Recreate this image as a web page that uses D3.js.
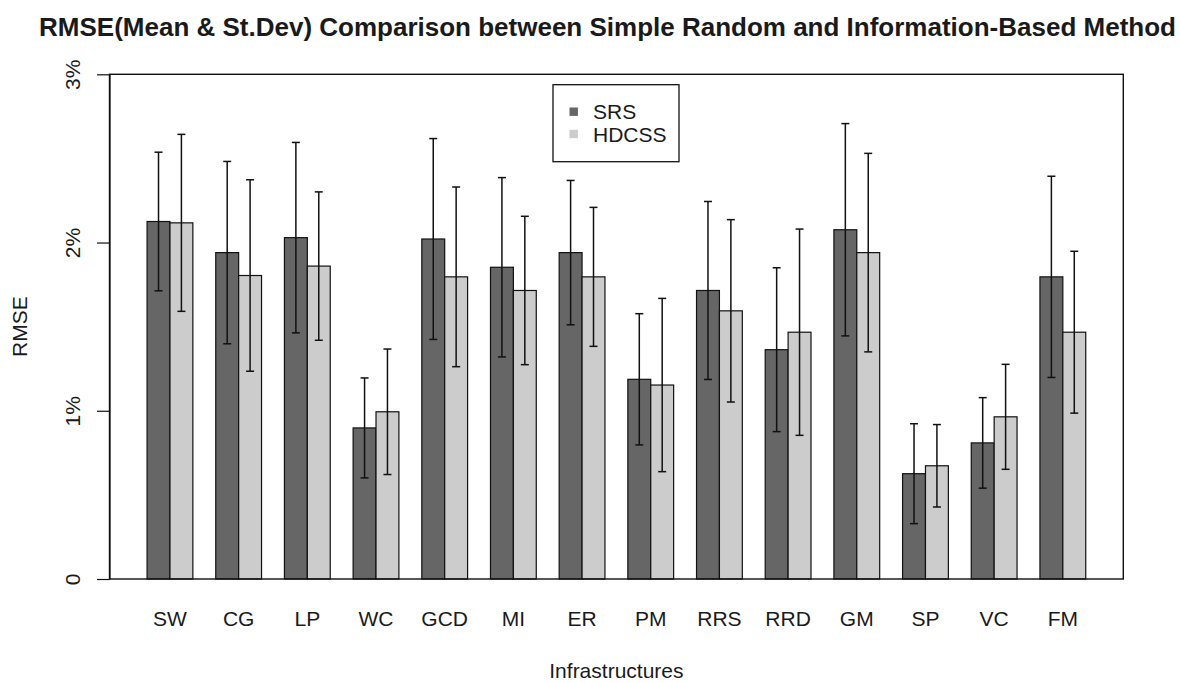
<!DOCTYPE html>
<html>
<head>
<meta charset="utf-8">
<script src="https://cdn.jsdelivr.net/npm/d3@7"></script>
<style>
  body { margin: 0; background: #fff; }
  text { font-family: "Liberation Sans", Arial, sans-serif; fill: #1a1a1a; }
</style>
</head>
<body>
<div id="chart"></div>
<script>
// values (RMSE in %)
const categories = ["SW", "CG", "LP", "WC", "GCD", "MI", "ER", "PM", "RRS", "RRD", "GM", "SP", "VC", "FM"];
const seriesNames = ["SRS", "HDCSS"];
const srsMean = [2.125, 1.940, 2.029, 0.898, 2.021, 1.853, 1.940, 1.187, 1.715, 1.363, 2.076, 0.626, 0.809, 1.796];
const srsSd = [0.412, 0.542, 0.566, 0.297, 0.597, 0.533, 0.429, 0.390, 0.529, 0.487, 0.631, 0.297, 0.269, 0.598];
const hdcssMean = [2.117, 1.804, 1.860, 0.994, 1.796, 1.715, 1.796, 1.153, 1.594, 1.467, 1.940, 0.673, 0.964, 1.467];
const hdcssSd = [0.526, 0.569, 0.441, 0.373, 0.534, 0.441, 0.413, 0.515, 0.542, 0.613, 0.590, 0.245, 0.312, 0.481];
const yTicks = [0, 1, 2, 3];
const yTickLabels = ["0", "1%", "2%", "3%"];
const colors = ["#666666", "#cccccc"];

const width = 1180, height = 683;
const plot = { left: 109.5, right: 1123.3, top: 74.3, bottom: 579 };

const svg = d3.select("#chart").append("svg")
    .attr("width", width)
    .attr("height", height);

// scales - barplot(beside=TRUE) style spacing
const x0 = d3.scaleBand()
    .domain(categories)
    .range([plot.left, plot.right])
    .paddingInner(1 / 3)
    .paddingOuter(0.547);

const x1 = d3.scaleBand()
    .domain(seriesNames)
    .range([0, x0.bandwidth()]);

const y = d3.scaleLinear()
    .domain([0, 3])
    .range([plot.bottom, plot.top]);

// build rows
const rows = categories.map((c, i) => ({
    cat: c,
    vals: [
        { s: "SRS", mean: srsMean[i], sd: srsSd[i] },
        { s: "HDCSS", mean: hdcssMean[i], sd: hdcssSd[i] }
    ]
}));

// bars
const groups = svg.append("g").selectAll("g")
    .data(rows)
    .join("g")
    .attr("transform", d => `translate(${x0(d.cat)},0)`);

groups.selectAll("rect")
    .data(d => d.vals)
    .join("rect")
    .attr("x", d => x1(d.s))
    .attr("y", d => y(d.mean))
    .attr("width", x1.bandwidth())
    .attr("height", d => y(0) - y(d.mean))
    .attr("fill", (d, i) => colors[i])
    .attr("stroke", "#111")
    .attr("stroke-width", 1.2);

// error bars
const capHalf = 4;
const err = groups.selectAll("g.err")
    .data(d => d.vals)
    .join("g")
    .attr("class", "err")
    .attr("stroke", "#111")
    .attr("stroke-width", 1.5);

err.append("line")
    .attr("x1", d => x1(d.s) + x1.bandwidth() / 2)
    .attr("x2", d => x1(d.s) + x1.bandwidth() / 2)
    .attr("y1", d => y(d.mean + d.sd))
    .attr("y2", d => y(d.mean - d.sd));

err.append("line")
    .attr("x1", d => x1(d.s) + x1.bandwidth() / 2 - capHalf)
    .attr("x2", d => x1(d.s) + x1.bandwidth() / 2 + capHalf)
    .attr("y1", d => y(d.mean + d.sd))
    .attr("y2", d => y(d.mean + d.sd));

err.append("line")
    .attr("x1", d => x1(d.s) + x1.bandwidth() / 2 - capHalf)
    .attr("x2", d => x1(d.s) + x1.bandwidth() / 2 + capHalf)
    .attr("y1", d => y(d.mean - d.sd))
    .attr("y2", d => y(d.mean - d.sd));

// box around plot
svg.append("rect")
    .attr("x", plot.left)
    .attr("y", plot.top)
    .attr("width", plot.right - plot.left)
    .attr("height", plot.bottom - plot.top)
    .attr("fill", "none")
    .attr("stroke", "#111")
    .attr("stroke-width", 1.4);

// y axis
const yAxis = svg.append("g")
    .attr("transform", `translate(${plot.left},0)`)
    .call(d3.axisLeft(y)
        .tickValues(yTicks)
        .tickFormat((d, i) => yTickLabels[i])
        .tickSize(12.5)
        .tickSizeOuter(0));

yAxis.select(".domain").attr("stroke", "#111").attr("stroke-width", 1.2);
yAxis.selectAll(".tick line").attr("stroke", "#111").attr("stroke-width", 1.2);
yAxis.selectAll(".tick text")
    .attr("transform", "rotate(-90)")
    .attr("x", 0)
    .attr("y", -29.5)
    .attr("dy", 0)
    .attr("text-anchor", "middle")
    .style("font-size", "21px")
    .style("font-family", "'Liberation Sans', Arial, sans-serif")
    .attr("fill", "#1a1a1a");

// x category labels (no axis line, like barplot)
svg.append("g").selectAll("text")
    .data(categories)
    .join("text")
    .attr("x", d => x0(d) + x0.bandwidth() / 2)
    .attr("y", 626)
    .attr("text-anchor", "middle")
    .style("font-size", "21px")
    .text(d => d);

// axis titles
svg.append("text")
    .attr("x", (plot.left + plot.right) / 2)
    .attr("y", 678)
    .attr("text-anchor", "middle")
    .style("font-size", "21px")
    .text("Infrastructures");

svg.append("text")
    .attr("transform", `translate(27,${(plot.top + plot.bottom) / 2}) rotate(-90)`)
    .attr("text-anchor", "middle")
    .style("font-size", "21px")
    .text("RMSE");

// title
svg.append("text")
    .attr("x", 607.5)
    .attr("y", 36)
    .attr("text-anchor", "middle")
    .style("font-size", "26px")
    .style("font-weight", "bold")
    .text("RMSE(Mean & St.Dev) Comparison between Simple Random and Information-Based Method");

// legend
const legend = svg.append("g").attr("transform", "translate(553,84.7)");
legend.append("rect")
    .attr("width", 126)
    .attr("height", 77)
    .attr("fill", "#fff")
    .attr("stroke", "#111")
    .attr("stroke-width", 1.3);

const items = legend.selectAll("g.item")
    .data(seriesNames)
    .join("g")
    .attr("class", "item")
    .attr("transform", (d, i) => `translate(0,${27 + i * 22.3})`);

items.append("rect")
    .attr("x", 16.5)
    .attr("y", -4.2)
    .attr("width", 8.4)
    .attr("height", 8.4)
    .attr("fill", (d, i) => colors[i]);

items.append("text")
    .attr("x", 40)
    .attr("y", 7.5)
    .style("font-size", "21px")
    .text(d => d);
</script>
</body>
</html>
